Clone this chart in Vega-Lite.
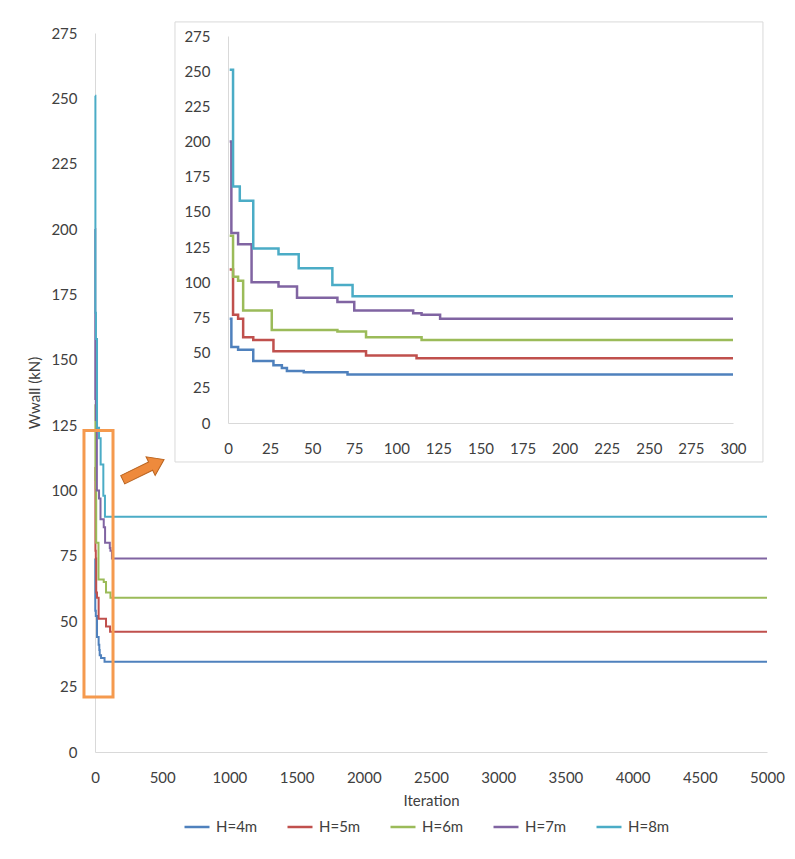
{
  "$schema": "https://vega.github.io/schema/vega-lite/v6.json",
  "autosize": {"type": "none"},
  "padding": {"left": 95, "top": 33, "right": 28, "bottom": 107},
  "width": 672,
  "height": 719,
  "background": "white",
  "config": {
    "view": {"stroke": null},
    "axis": {"grid": false, "ticks": false, "domainColor": "#d9d9d9", "domainWidth": 1, "labelFont": "Lato", "labelFontSize": 15, "labelColor": "#404040", "titleFont": "Lato", "titleFontWeight": "normal", "titleFontSize": 15, "titleColor": "#404040", "labelOverlap": false, "labelFlush": false, "format": "d"},
    "legend": {"labelFont": "Lato", "labelFontSize": 15, "labelColor": "#404040"}
  },
  "datasets": {
    "conv": [
      {"H": "H=4m", "it": 1, "w": 74}, {"H": "H=4m", "it": 2, "w": 54}, {"H": "H=4m", "it": 6, "w": 52}, {"H": "H=4m", "it": 15, "w": 44}, {"H": "H=4m", "it": 27, "w": 41}, {"H": "H=4m", "it": 32, "w": 39}, {"H": "H=4m", "it": 35, "w": 37}, {"H": "H=4m", "it": 45, "w": 36}, {"H": "H=4m", "it": 71, "w": 34.5}, {"H": "H=4m", "it": 300, "w": 34.5}, {"H": "H=4m", "it": 5000, "w": 34.5},
      {"H": "H=5m", "it": 1, "w": 109}, {"H": "H=5m", "it": 3, "w": 77}, {"H": "H=5m", "it": 6, "w": 74}, {"H": "H=5m", "it": 9, "w": 61}, {"H": "H=5m", "it": 15, "w": 59}, {"H": "H=5m", "it": 27, "w": 51}, {"H": "H=5m", "it": 82, "w": 48}, {"H": "H=5m", "it": 112, "w": 46}, {"H": "H=5m", "it": 300, "w": 46}, {"H": "H=5m", "it": 5000, "w": 46},
      {"H": "H=6m", "it": 1, "w": 133}, {"H": "H=6m", "it": 3, "w": 104}, {"H": "H=6m", "it": 6, "w": 101}, {"H": "H=6m", "it": 9, "w": 80}, {"H": "H=6m", "it": 26, "w": 66}, {"H": "H=6m", "it": 65, "w": 65}, {"H": "H=6m", "it": 82, "w": 61}, {"H": "H=6m", "it": 115, "w": 59}, {"H": "H=6m", "it": 300, "w": 59}, {"H": "H=6m", "it": 5000, "w": 59},
      {"H": "H=7m", "it": 1, "w": 200}, {"H": "H=7m", "it": 2, "w": 135}, {"H": "H=7m", "it": 6, "w": 127}, {"H": "H=7m", "it": 14, "w": 100}, {"H": "H=7m", "it": 30, "w": 97}, {"H": "H=7m", "it": 41, "w": 89}, {"H": "H=7m", "it": 65, "w": 86}, {"H": "H=7m", "it": 75, "w": 80}, {"H": "H=7m", "it": 110, "w": 78}, {"H": "H=7m", "it": 115, "w": 77}, {"H": "H=7m", "it": 126, "w": 74}, {"H": "H=7m", "it": 300, "w": 74}, {"H": "H=7m", "it": 5000, "w": 74},
      {"H": "H=8m", "it": 1, "w": 251}, {"H": "H=8m", "it": 3, "w": 168}, {"H": "H=8m", "it": 7, "w": 158}, {"H": "H=8m", "it": 15, "w": 124}, {"H": "H=8m", "it": 30, "w": 120}, {"H": "H=8m", "it": 42, "w": 110}, {"H": "H=8m", "it": 62, "w": 98}, {"H": "H=8m", "it": 74, "w": 90}, {"H": "H=8m", "it": 300, "w": 90}, {"H": "H=8m", "it": 5000, "w": 90}
    ]
  },
  "layer": [
    {
      "layer": [
        {
          "data": {"name": "conv"},
          "mark": {"type": "line", "interpolate": "step-after", "strokeWidth": 2},
          "encoding": {
            "x": {"field": "it", "type": "quantitative", "title": "Iteration",
                  "scale": {"domain": [0, 5000], "nice": false, "zero": false},
                  "axis": {"orient": "bottom", "values": [0, 500, 1000, 1500, 2000, 2500, 3000, 3500, 4000, 4500, 5000], "labelPadding": 18, "titlePadding": 8}},
            "y": {"field": "w", "type": "quantitative", "title": "Wwall (kN)",
                  "scale": {"domain": [0, 275], "nice": false},
                  "axis": {"orient": "left", "values": [0, 25, 50, 75, 100, 125, 150, 175, 200, 225, 250, 275], "labelPadding": 18, "titlePadding": 8}},
            "color": {"field": "H", "type": "nominal",
                      "scale": {"domain": ["H=4m", "H=5m", "H=6m", "H=7m", "H=8m"], "range": ["#4F81BD", "#C0504D", "#9BBB59", "#8064A2", "#4BACC6"]},
                      "legend": {"title": null, "orient": "none", "direction": "horizontal", "legendX": 88, "legendY": 780, "symbolType": "stroke", "symbolSize": 625, "symbolStrokeWidth": 2.5, "labelOffset": 5, "columnPadding": 24, "padding": 0}}
          }
        },
        {
          "data": {"values": [{}]},
          "mark": {"type": "rect", "fill": null, "fillOpacity": 0, "stroke": "#F59A4E", "strokeWidth": 3},
          "encoding": {
            "x": {"datum": -82, "type": "quantitative"},
            "x2": {"datum": 134},
            "y": {"datum": 21, "type": "quantitative"},
            "y2": {"datum": 123}
          }
        },
        {
          "data": {"values": [{}]},
          "mark": {"type": "point", "shape": "M-1,-0.2L0.35,-0.2L0.35,-0.45L1,0L0.35,0.45L0.35,0.2L-1,0.2Z", "filled": true, "size": 2116, "angle": -26, "fill": "#EE8A3C", "stroke": "#B9631F", "strokeWidth": 1, "opacity": 1},
          "encoding": {
            "x": {"datum": 360, "type": "quantitative"},
            "y": {"datum": 108, "type": "quantitative"}
          }
        }
      ]
    },
    {
      "layer": [
        {
          "data": {"values": [{}]},
          "mark": {"type": "rect", "fill": "white", "stroke": "#d9d9d9", "strokeWidth": 1},
          "encoding": {
            "x": {"datum": -31.5, "type": "quantitative"},
            "x2": {"datum": 317.8},
            "y": {"datum": 285, "type": "quantitative"},
            "y2": {"datum": -27.7}
          }
        },
        {
          "data": {"name": "conv"},
          "transform": [{"filter": "datum.it <= 300"}],
          "mark": {"type": "line", "interpolate": "step-after", "strokeWidth": 2.5},
          "encoding": {
            "x": {"field": "it", "type": "quantitative", "title": null,
                  "scale": {"domain": [0, 300], "range": [133, 638], "nice": false, "zero": false},
                  "axis": {"orient": "bottom", "offset": -329, "zindex": 1, "values": [0, 25, 50, 75, 100, 125, 150, 175, 200, 225, 250, 275, 300], "labelPadding": 18}},
            "y": {"field": "w", "type": "quantitative", "title": null,
                  "scale": {"domain": [0, 275], "range": [390, 3], "nice": false},
                  "axis": {"orient": "left", "offset": -133, "zindex": 1, "values": [0, 25, 50, 75, 100, 125, 150, 175, 200, 225, 250, 275], "labelPadding": 18}},
            "color": {"field": "H", "type": "nominal"}
          }
        }
      ]
    }
  ],
  "resolve": {"scale": {"x": "independent", "y": "independent"}}
}
